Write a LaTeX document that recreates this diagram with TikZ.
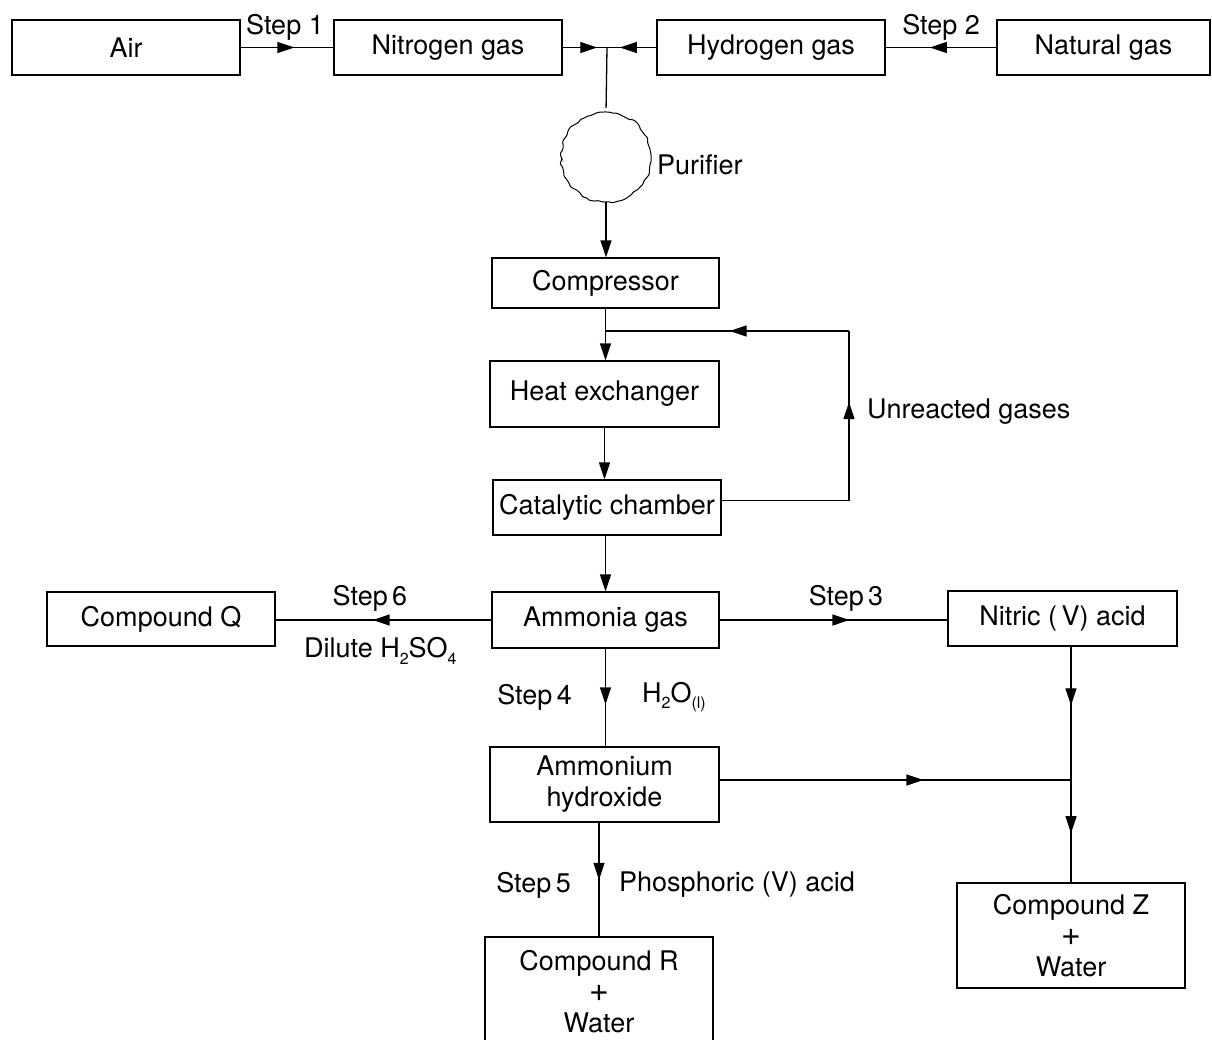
\documentclass[tikz,border=0pt]{standalone}
\usepackage{fontspec}
\setmainfont{TeX Gyre Heros}
\usetikzlibrary{arrows.meta,decorations.markings,decorations.pathmorphing,calc}
\begin{document}
\begin{tikzpicture}[x=1pt,y=-1pt,
  every node/.style={font=\fontsize{27}{31}\selectfont},
  box/.style={draw,line width=1.3pt,inner sep=0pt,align=center,minimum width=228pt,minimum height=55pt},
  ln/.style={line width=1.3pt},
  endarr/.style={ln,-{Triangle[length=17pt,width=11pt]}},
  marr/.style={ln,postaction={decorate,decoration={markings,mark=at position #1 with {\arrow{Triangle[length=17pt,width=11pt]}}}}},
  lbl/.style={inner sep=0pt}
]
\useasboundingbox (0,0) rectangle (1212,1039);
\newcommand{\sbs}[1]{\raisebox{-0.45ex}{\fontsize{16}{16}\selectfont #1}}
\newcommand{\bigplus}{{\fontsize{34}{31}\selectfont +}}

% top row
\node[box] (air) at (126,47.5) {Air};
\node[box] (nit) at (448,47.5) {Nitrogen gas};
\node[box] (hyd) at (771,47.5) {Hydrogen gas};
\node[box,minimum width=213pt] (nat) at (1103.5,47.5) {Natural gas};
\coordinate (jn) at (607,47.5);

\draw[marr=0.58] (air.east) -- (nit.west);
\node[lbl] (s1) at (285,27) {Step 1};
\draw[marr=0.6] (nat.west) -- (hyd.east);
\node[lbl] (s2) at (941,27) {Step 2};
\draw[marr=0.78] (nit.east) -- (jn);
\draw[marr=0.74] (hyd.west) -- (jn);

% purifier
\node[circle,minimum size=90pt,inner sep=0pt] (pur) at (606,157) {};
\pgfmathsetseed{7}
\draw[line width=1pt,decorate,decoration={random steps,segment length=4pt,amplitude=1.3pt},rounded corners=1pt] (pur.center) circle (45);
\node[lbl,anchor=west] (purl) at (657,165) {Purifier};
\draw[ln,shorten >=4pt] (jn) -- (pur.north);

% main column
\node[box,minimum width=227pt,minimum height=50pt] (comp) at (605.5,283) {Compressor};
\node[box,minimum width=229pt,minimum height=66pt] (he) at (604.5,394) {Heat exchanger};
\node[box] (cat) at (607,507.5) {Catalytic chamber};
\node[box,minimum width=227pt,minimum height=56pt] (amm) at (605.5,620) {Ammonia gas};

\draw[endarr] (pur.south) -- (pur.south |- comp.north);
\draw[endarr] (comp.south) -- (comp.south |- he.north);
\draw[endarr] (he.south) -- (he.south |- cat.north);
\draw[endarr] (cat.south -| amm.north) -- (amm.north);

% recycle
\coordinate (rj) at (605.5,331);
\coordinate (c1) at (849,500.5);
\coordinate (c2) at (849,331);
\draw[ln] ($(cat.east)+(0,-7)$) -- (c1);
\draw[marr=0.58] (c1) -- (c2);
\draw[marr=0.49] (c2) -- (rj);
\node[lbl,anchor=west] (unr) at (867,412) {Unreacted gases};

% ammonia row
\node[box,minimum height=54pt] (q) at (161,619) {Compound Q};
\node[box,minimum width=229pt] (nitric) at (1062.5,618.5) {Nitric (\,V) acid};
\draw[marr=0.55] (amm.west) -- (amm.west -| q.east);
\node[lbl] (s6) at (370,598) {Step\,6};
\node[lbl,anchor=west] (dil) at (304,651) {Dilute H\sbs{2}SO\sbs{4}};
\draw[marr=0.57] (amm.east) -- (amm.east -| nitric.west);
\node[lbl] (s3) at (846,598) {Step\,3};

% ammonium hydroxide
\node[box,minimum width=229pt,minimum height=75pt] (ah) at (604.5,784.5) {Ammonium\\hydroxide};
\draw[marr=0.57] (amm.south) -- (amm.south |- ah.north);
\node[lbl,anchor=east] (s4) at (572,697) {Step\,4};
\node[lbl,anchor=west] (h2o) at (642,697) {H\sbs{2}O\sbs{(l)}};

% compound Z
\node[box,minimum width=228pt,minimum height=105pt] (z) at (1071,935.5) {Compound Z\\\bigplus\\Water};
\coordinate (jz) at (1071,780);
\draw[marr=0.58] ($(ah.east)+(0,-4.5)$) -- (jz);
\draw[marr=0.44] (nitric.south -| z.north) -- (jz);
\draw[marr=0.52] (jz) -- (z.north);

% compound R (open bottom)
\draw[ln] (485,1045) -- (485,937) -- (713,937) -- (713,1045);
\coordinate (rtop) at (599,937);
\node[lbl,align=center] (r) at (599,992) {Compound R\\\bigplus\\Water};
\draw[marr=0.5] (ah.south -| rtop) -- (rtop);
\node[lbl,anchor=east] (s5) at (571,885) {Step\,5};
\node[lbl,anchor=west] (pho) at (619,885) {Phosphoric (V) acid};
\end{tikzpicture}
\end{document}
